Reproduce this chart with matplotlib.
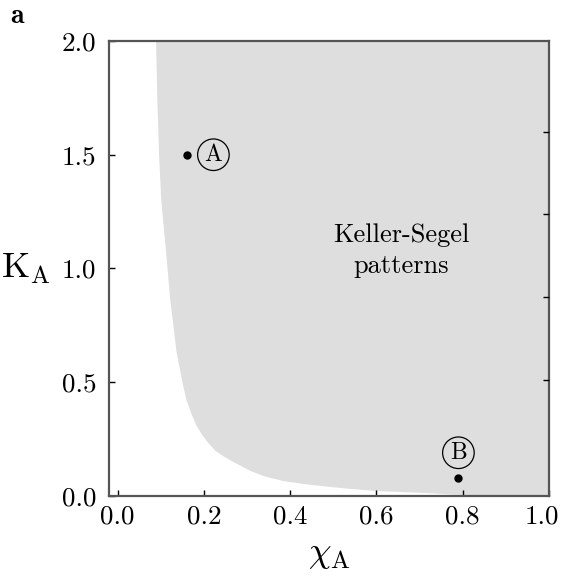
"""Phase diagram of Keller-Segel pattern formation in the (chi_A, K_A) plane"""

import matplotlib
matplotlib.use('Agg')
import matplotlib.pyplot as plt
import matplotlib.transforms as mtransforms
import numpy as np

plt.rcParams['font.family'] = 'serif'
plt.rcParams['font.serif'] = ['cmr10', 'DejaVu Serif']
plt.rcParams['mathtext.fontset'] = 'cm'
plt.rcParams['axes.formatter.use_mathtext'] = True

# boundary of the pattern-forming region: K_A values and the critical chi_A
K_edge = [2.0, 1.74, 1.5, 1.30, 1.079, 0.86, 0.786, 0.64, 0.493, 0.42,
          0.363, 0.31, 0.273, 0.235, 0.2, 0.178, 0.156, 0.134, 0.112, 0.09,
          0.068, 0.055, 0.042, 0.033, 0.024, 0.02, 0.015, 0.009, 0.005, 0.002, 0.0]
chi_edge = [0.088, 0.091, 0.095, 0.100, 0.111, 0.121, 0.126, 0.135, 0.150, 0.159,
            0.170, 0.182, 0.194, 0.209, 0.226, 0.243, 0.263, 0.285, 0.307, 0.337,
            0.382, 0.43, 0.49, 0.54, 0.6, 0.65, 0.716, 0.77, 0.83, 0.886, 0.95]

# sample parameter sets
pt_names = ['A', 'B']
pt_chi = [0.16, 0.79]
pt_K = [1.5, 0.08]

xticks = [0.0, 0.2, 0.4, 0.6, 0.8, 1.0]
yticks = [0.0, 0.5, 1.0, 1.5, 2.0]

fig = plt.figure(figsize=(5.61, 5.78), dpi=100, facecolor='w')
ax = fig.add_axes([0.1943, 0.1419, 0.7843, 0.7872])

ax.fill_betweenx(K_edge, chi_edge, 1.0, color='#dedede', lw=0)

ax.plot(pt_chi, pt_K, 'o', color='k', ms=5)
circ = dict(boxstyle='circle,pad=0.2', fc='none', ec='k', lw=0.9)
ax.text(pt_chi[0] + 0.062, pt_K[0], pt_names[0], fontsize=17, ha='center', va='center', bbox=circ)
ax.text(pt_chi[1], pt_K[1] + 0.11, pt_names[1], fontsize=17, ha='center', va='center', bbox=circ)

ax.text(0.658, 1.08, 'Keller-Segel\npatterns', fontsize=19, ha='center', va='center',
        linespacing=1.4)

ax.set_xlim(-0.02, 1.0)
ax.set_ylim(0, 2)
ax.set_xticks(xticks)
ax.set_yticks(yticks)
ax.set_xticklabels([f'{v:.1f}' for v in xticks])
ax.set_yticklabels([f'{v:.1f}' for v in yticks])
ax.tick_params(direction='in', length=4, width=1, labelsize=19.5, pad=6)
ax.tick_params(axis='y', pad=9)

# pull the last x label back inside the figure
last = ax.get_xticklabels()[-1]
last.set_transform(last.get_transform() + mtransforms.ScaledTranslation(-7 / 100, 0, fig.dpi_scale_trans))

for s in ax.spines.values():
    s.set_color('#555555')
    s.set_linewidth(1.6)

ax.set_xlabel(r'$\chi_{\mathrm{A}}$', fontsize=26, labelpad=8)
ax.set_ylabel(r'$\mathrm{K}_{\mathrm{A}}$', fontsize=26, rotation=0, labelpad=26, va='center')

# extra ticks on the right side
ax2 = ax.twinx()
ax2.set_ylim(0, 2)
ax2.set_yticks([0.51, 0.875, 1.24, 1.6])
ax2.set_yticklabels([])
ax2.tick_params(direction='in', length=4, width=1)
for s in ax2.spines.values():
    s.set_visible(False)

fig.text(0.018, 0.995, r'$\mathbf{a}$', fontsize=20, va='top', ha='left')

fig.savefig('out.png', dpi=100, facecolor=fig.get_facecolor())
